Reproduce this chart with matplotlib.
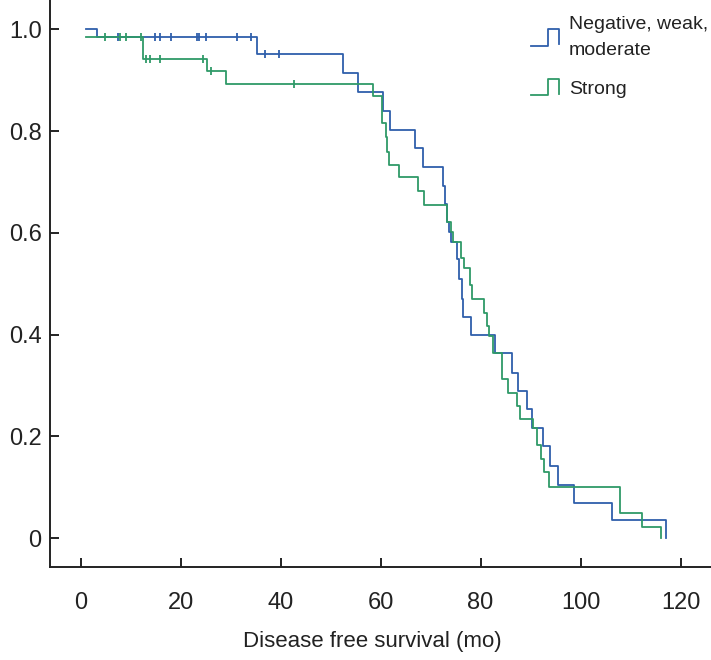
import numpy as np
import matplotlib
matplotlib.use("Agg")
import matplotlib.pyplot as plt
from matplotlib.legend_handler import HandlerBase
from matplotlib.lines import Line2D

plt.rcParams['font.family'] = ['Liberation Sans', 'DejaVu Sans']

# ----------------------------
# Data
# ----------------------------
labels = ["Negative, weak,\nmoderate", "Strong"]
colors = ["#2f5fab", "#2f9a68"]

# Negative / weak / moderate: event times (mo) and survival after each step
neg_times = [1.0, 3.3, 35.2, 52.4, 55.4, 60.4, 61.9, 66.9, 68.4, 72.4, 72.8,
             73.3, 73.7, 74.0, 75.3, 75.7, 76.2, 76.5, 78.1, 82.9, 86.3,
             87.5, 89.3, 90.2, 92.5, 93.9, 95.4, 98.7, 106.2, 117.1]
neg_surv = [1.0, 0.986, 0.952, 0.914, 0.878, 0.840, 0.803, 0.767, 0.730, 0.692,
            0.656, 0.622, 0.602, 0.583, 0.548, 0.509, 0.471, 0.435, 0.399,
            0.364, 0.325, 0.290, 0.253, 0.217, 0.180, 0.142, 0.104, 0.069,
            0.035, 0.0]
neg_censor = [7.4, 14.8, 15.8, 18.1, 23.2, 23.7, 25.1, 31.3, 34.0, 36.9, 39.7]

# Strong
str_times = [1.0, 12.4, 25.2, 29.0, 58.4, 60.2, 61.0, 61.3, 61.7, 63.7, 67.4,
             68.7, 73.2, 74.0, 74.5, 76.1, 76.7, 77.9, 78.2, 80.7, 81.2, 81.7,
             82.4, 84.2, 85.4, 87.2, 87.9, 90.5, 91.3, 92.0, 92.7, 93.7,
             107.9, 112.3, 116.1]
str_surv = [0.986, 0.942, 0.919, 0.893, 0.870, 0.816, 0.789, 0.760, 0.734,
            0.709, 0.682, 0.655, 0.622, 0.602, 0.583, 0.550, 0.530, 0.498,
            0.470, 0.443, 0.417, 0.397, 0.364, 0.312, 0.286, 0.260, 0.234,
            0.217, 0.182, 0.155, 0.129, 0.101, 0.049, 0.022, 0.0]
str_censor = [4.8, 7.9, 9.1, 12.0, 13.1, 13.8, 15.8, 24.5, 26.1, 42.7]

x_ticks = [0, 20, 40, 60, 80, 100, 120]
y_ticks = [0, 0.2, 0.4, 0.6, 0.8, 1.0]
y_ticklabels = ["0", "0.2", "0.4", "0.6", "0.8", "1.0"]


# step-shaped legend key
class StepHandler(HandlerBase):
    def create_artists(self, legend, orig_handle, xdescent, ydescent,
                       width, height, fontsize, trans):
        x0, y0 = -xdescent, -ydescent
        xs = np.array([0, 0.6, 0.6, 1.0, 1.0]) * width + x0
        ys = np.array([0, 0, 1.0, 1.0, 0.1]) * height + y0
        line = Line2D(xs, ys, color=orig_handle.get_color(),
                      lw=orig_handle.get_linewidth(), transform=trans)
        return [line]


def surv_at(times, surv, t):
    idx = np.searchsorted(times, t, side="right") - 1
    return np.array(surv)[idx]


# ----------------------------
# Plot
# ----------------------------
fig = plt.figure(figsize=(7.11, 6.6), dpi=100)
ax = fig.add_axes([50 / 711, 93 / 660, 661 / 711, 567 / 660])

groups = [(neg_times, neg_surv, neg_censor), (str_times, str_surv, str_censor)]
handles = []
for (t, s, c), col in zip(groups, colors):
    h, = ax.step(t, s, where="post", color=col, lw=1.3)
    handles.append(h)
    ax.plot(c, surv_at(t, s, c), linestyle="none", marker="|",
            color=col, markersize=6, markeredgewidth=1.3)

ax.set_xlim(-6.14, 126.1)
ax.set_ylim(-0.057, 1.058)
ax.set_xticks(x_ticks)
ax.set_yticks(y_ticks)
ax.set_yticklabels(y_ticklabels)

for side in ["top", "right"]:
    ax.spines[side].set_visible(False)
for side in ["left", "bottom"]:
    ax.spines[side].set_linewidth(1.4)
    ax.spines[side].set_color("#222222")

ax.tick_params(axis="both", direction="in", length=6.5, width=1.4,
               color="#222222", labelsize=17, labelcolor="#222222")
ax.tick_params(axis="x", pad=18)
ax.tick_params(axis="y", pad=6)

ax.set_xlabel("Disease free survival (mo)", fontsize=16, color="#222222")
ax.xaxis.set_label_coords(0.487, -0.113)

leg = ax.legend(handles, labels, handler_map={Line2D: StepHandler()},
                loc="upper left", bbox_to_anchor=(531 / 711, 1 - 16 / 660),
                bbox_transform=fig.transFigure, frameon=False, fontsize=14,
                handlelength=1.45, handleheight=0.95, handletextpad=0.5,
                labelspacing=1.0, borderpad=0, borderaxespad=0)
for txt in leg.get_texts():
    txt.set_color("#222222")
    txt.set_linespacing(1.7)

fig.savefig("out.png", dpi=100)
